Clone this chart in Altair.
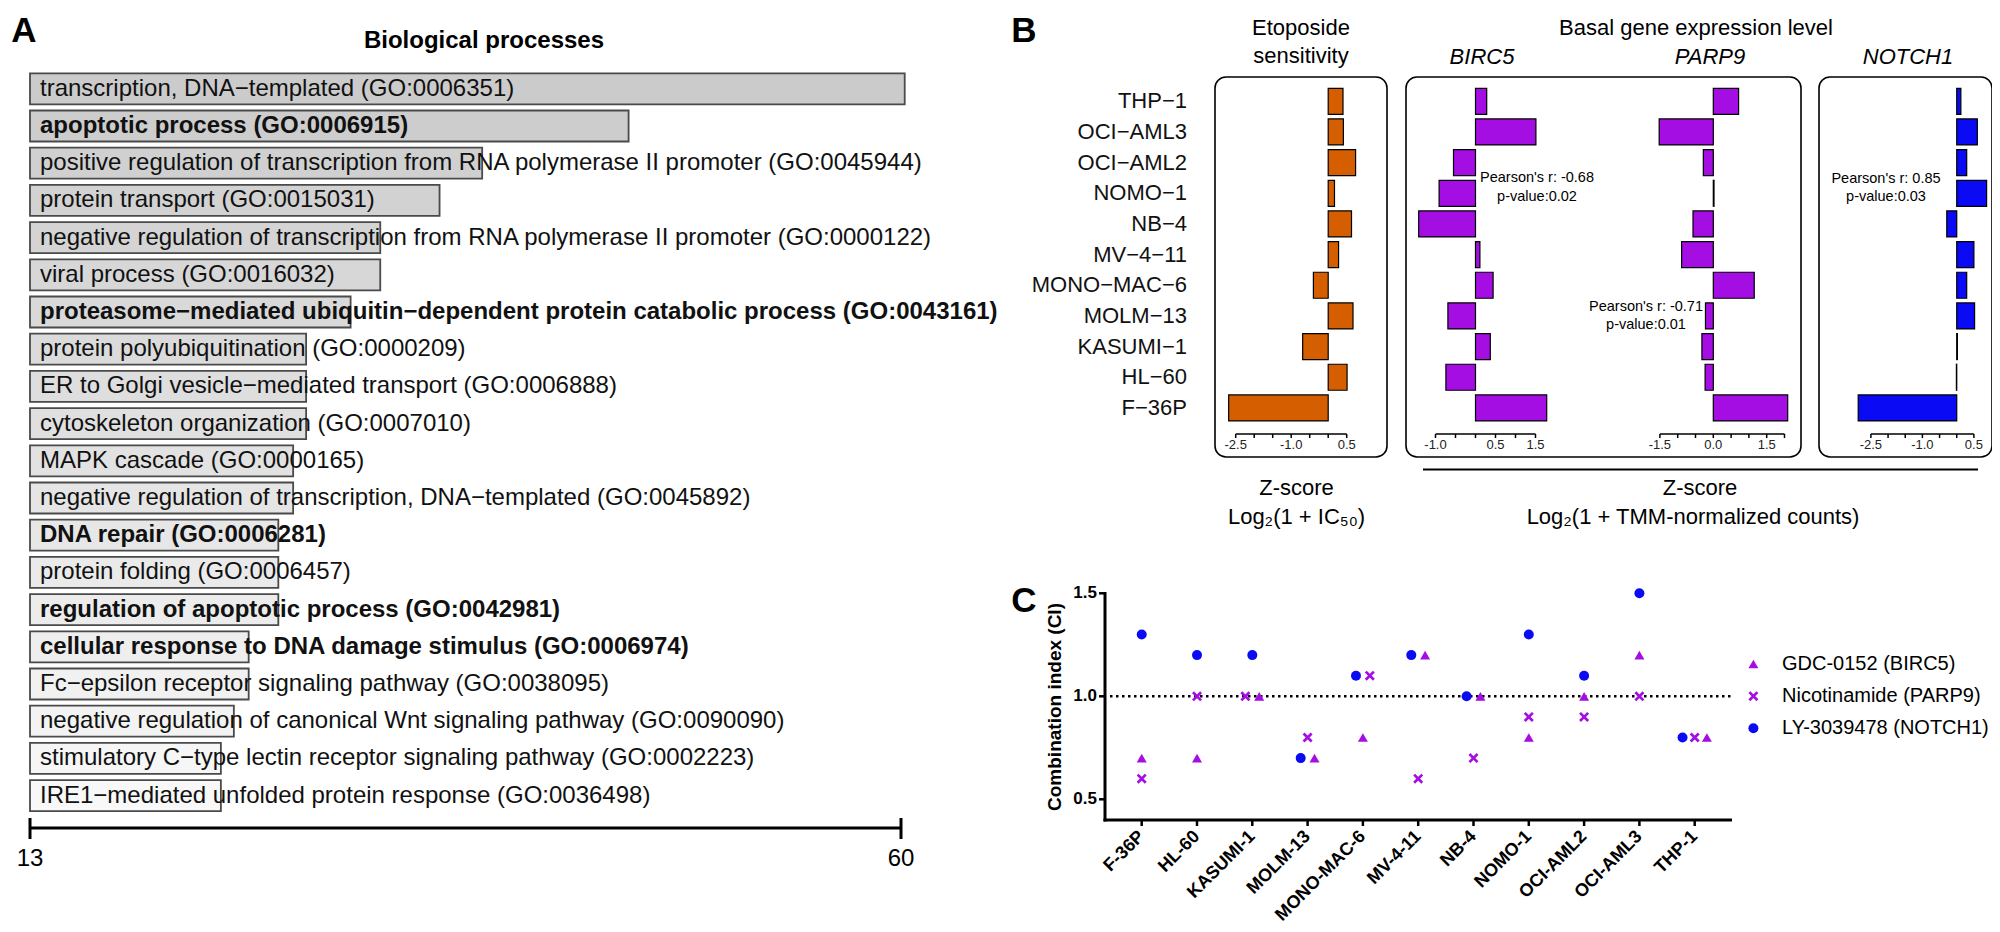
import altair as alt
import pandas as pd

# ---------------- data ----------------
go_terms = [
    "transcription, DNA\u2212templated (GO:0006351)",
    "apoptotic process (GO:0006915)",
    "positive regulation of transcription from RNA polymerase II promoter (GO:0045944)",
    "protein transport (GO:0015031)",
    "negative regulation of transcription from RNA polymerase II promoter (GO:0000122)",
    "viral process (GO:0016032)",
    "proteasome\u2212mediated ubiquitin\u2212dependent protein catabolic process (GO:0043161)",
    "protein polyubiquitination (GO:0000209)",
    "ER to Golgi vesicle\u2212mediated transport (GO:0006888)",
    "cytoskeleton organization (GO:0007010)",
    "MAPK cascade (GO:0000165)",
    "negative regulation of transcription, DNA\u2212templated (GO:0045892)",
    "DNA repair (GO:0006281)",
    "protein folding (GO:0006457)",
    "regulation of apoptotic process (GO:0042981)",
    "cellular response to DNA damage stimulus (GO:0006974)",
    "Fc\u2212epsilon receptor signaling pathway (GO:0038095)",
    "negative regulation of canonical Wnt signaling pathway (GO:0090090)",
    "stimulatory C\u2212type lectin receptor signaling pathway (GO:0002223)",
    "IRE1\u2212mediated unfolded protein response (GO:0036498)",
]
go_values = [60.2, 45.3, 37.4, 35.1, 31.9, 31.9, 30.3, 27.9, 27.9, 27.9,
             27.2, 27.2, 26.4, 26.4, 26.4, 24.8, 24.8, 24.0, 23.3, 23.3]
go_bold = [False, True, False, False, False, False, True, False, False, False,
           False, False, True, False, True, True, False, False, False, False]
a_ticks = [13, 60]

cells_b = ["THP-1", "OCI-AML3", "OCI-AML2", "NOMO-1", "NB-4", "MV-4-11",
           "MONO-MAC-6", "MOLM-13", "KASUMI-1", "HL-60", "F-36P"]
eto_z = [0.40, 0.41, 0.74, 0.17, 0.63, 0.28, -0.40, 0.67, -0.69, 0.51, -2.69]
birc5_z = [0.28, 1.51, -0.55, -0.91, -1.42, 0.11, 0.44, -0.69, 0.37, -0.74, 1.78]
parp9_z = [0.71, -1.52, -0.28, 0.02, -0.57, -0.89, 1.15, -0.22, -0.32, -0.23, 2.09]
notch1_z = [0.12, 0.60, 0.29, 0.87, -0.29, 0.50, 0.29, 0.52, 0.02, -0.01, -2.87]

eto_ticks = [-2.5, -2.0, -1.5, -1.0, -0.5, 0.0, 0.5]
eto_labels = [-2.5, -1.0, 0.5]
birc5_ticks = [-1.0, -0.5, 0.0, 0.5, 1.0, 1.5]
birc5_labels = [-1.0, 0.5, 1.5]
parp9_ticks = [-1.5, -1.0, -0.5, 0.0, 0.5, 1.0, 1.5, 2.0]
parp9_labels = [-1.5, 0.0, 1.5]
notch1_ticks = [-2.5, -2.0, -1.5, -1.0, -0.5, 0.0, 0.5]
notch1_labels = [-2.5, -1.0, 0.5]

cells_c = ["F-36P", "HL-60", "KASUMI-1", "MOLM-13", "MONO-MAC-6", "MV-4-11",
           "NB-4", "NOMO-1", "OCI-AML2", "OCI-AML3", "THP-1"]
drugs = ["GDC-0152 (BIRC5)", "Nicotinamide (PARP9)", "LY-3039478 (NOTCH1)"]
ci_gdc = [0.7, 0.7, 1.0, 0.7, 0.8, 1.2, 1.0, 0.8, 1.0, 1.2, 0.8]
ci_nic = [0.6, 1.0, 1.0, 0.8, 1.1, 0.6, 0.7, 0.9, 0.9, 1.0, 0.8]
ci_ly = [1.3, 1.2, 1.2, 0.7, 1.1, 1.2, 1.0, 1.3, 1.1, 1.5, 0.8]
ci_ticks = [0.5, 1.0, 1.5]
ci_domain = [0.4, 1.5]
ci_ref = [1.0]

# ---------------- styling ----------------
FONT = "Liberation Sans"
ORANGE = "#d55e00"
PURPLE = "#a50ee3"
BLUE = "#0a0af5"
XPATH = "M-1,-0.62L-0.62,-1L1,0.62L0.62,1Z M1,-0.62L-0.62,1L-1,0.62L0.62,-1Z"
M = 8  # page margin


def px(v):
    return v - M


one = pd.DataFrame({"k": [0]})


def label(txt, x, y, size, **kw):
    return alt.Chart(one).mark_text(text=txt, fontSize=size, color="black", **kw).encode(
        x=alt.value(px(x)), y=alt.value(px(y)))


layers = []

# ---------------- Panel A ----------------
dfA = pd.DataFrame({"term": go_terms, "count": go_values, "bold": go_bold,
                    "rank": list(range(len(go_terms))), "base": a_ticks[0]})
a_x = alt.Scale(domain=[a_ticks[0], a_ticks[-1]], range=[px(30), px(901)], nice=False, zero=False)
a_y = alt.Scale(type="band", domain=go_terms, range=[px(73.3), px(811.1)],
                paddingInner=0.167, paddingOuter=0)

layers.append(alt.Chart(dfA).mark_bar(stroke="#4a4a4a", strokeWidth=1.8).encode(
    x=alt.X("count:Q", scale=a_x, axis=None),
    x2="base:Q",
    y=alt.Y("term:N", scale=a_y, axis=None),
    color=alt.Color("rank:Q", scale=alt.Scale(range=["#cbcbcb", "#f8f8f8"]), legend=None),
))
for b in (False, True):
    layers.append(alt.Chart(dfA).transform_filter(alt.datum.bold == b).mark_text(
        align="left", baseline="middle", dx=10, fontSize=24,
        fontWeight="bold" if b else "normal", color="#111111").encode(
        x=alt.X("base:Q", scale=a_x, axis=None),
        y=alt.Y("term:N", scale=a_y, axis=None),
        text="term:N"))

dfAt = pd.DataFrame({"t": a_ticks, "lab": [str(t) for t in a_ticks]})
layers.append(alt.Chart(pd.DataFrame({"a": [a_ticks[0]], "b": [a_ticks[-1]]})).mark_rule(
    strokeWidth=3, color="black").encode(
    x=alt.X("a:Q", scale=a_x, axis=None), x2="b:Q", y=alt.value(px(828))))
layers.append(alt.Chart(dfAt).mark_rule(strokeWidth=3, color="black").encode(
    x=alt.X("t:Q", scale=a_x, axis=None), y=alt.value(px(818)), y2=alt.value(px(839))))
layers.append(alt.Chart(dfAt).mark_text(fontSize=24, baseline="middle", color="black").encode(
    x=alt.X("t:Q", scale=a_x, axis=None), y=alt.value(px(859)), text="lab:N"))

layers.append(label("Biological processes", 484, 41, 24, fontWeight="bold", baseline="middle"))
layers.append(label("A", 24, 42, 35, fontWeight="bold", baseline="alphabetic"))

# ---------------- Panel B ----------------
dfB = pd.DataFrame({"cell": cells_b,
                    "lab": [c.replace("-", "\u2212") for c in cells_b],
                    "eto": eto_z, "birc5": birc5_z, "parp9": parp9_z, "notch1": notch1_z,
                    "zero": 0.0})
b_y = alt.Scale(type="band", domain=cells_b, range=[px(88.3), px(420.9)],
                paddingInner=0.152, paddingOuter=0)

layers.append(alt.Chart(dfB).mark_text(align="right", baseline="middle", fontSize=22,
                                       color="#111111").encode(
    x=alt.value(px(1187)), y=alt.Y("cell:N", scale=b_y, axis=None), text="lab:N"))


def frame(x1, x2, y1, y2):
    return alt.Chart(one).mark_rect(fillOpacity=0, stroke="black", strokeWidth=1.6,
                                    cornerRadius=11).encode(
        x=alt.value(px(x1)), x2=alt.value(px(x2)), y=alt.value(px(y1)), y2=alt.value(px(y2)))


layers += [frame(1215, 1387, 77, 457), frame(1406, 1801, 77, 457), frame(1819, 1992, 77, 457)]


def gene_panel(col, color, ticks, labels, r0, r1):
    xs = alt.Scale(domain=[ticks[0], ticks[-1]], range=[px(r0), px(r1)], nice=False, zero=False)
    out = [alt.Chart(dfB).mark_bar(color=color, stroke="black", strokeWidth=1.2).encode(
        x=alt.X(f"{col}:Q", scale=xs, axis=None), x2="zero:Q",
        y=alt.Y("cell:N", scale=b_y, axis=None))]
    out.append(alt.Chart(pd.DataFrame({"a": [ticks[0]], "b": [ticks[-1]]})).mark_rule(
        strokeWidth=1.5, color="black").encode(
        x=alt.X("a:Q", scale=xs, axis=None), x2="b:Q", y=alt.value(px(434))))
    out.append(alt.Chart(pd.DataFrame({"t": ticks})).mark_rule(strokeWidth=1.5, color="black").encode(
        x=alt.X("t:Q", scale=xs, axis=None), y=alt.value(px(434)), y2=alt.value(px(438))))
    out.append(alt.Chart(pd.DataFrame({"t": labels, "lab": [f"{v:.1f}" for v in labels]})).mark_text(
        fontSize=13, baseline="middle", color="#222222").encode(
        x=alt.X("t:Q", scale=xs, axis=None), y=alt.value(px(445)), text="lab:N"))
    return out


layers += gene_panel("eto", ORANGE, eto_ticks, eto_labels, 1235.7, 1346.7)
layers += gene_panel("birc5", PURPLE, birc5_ticks, birc5_labels, 1435.5, 1535.5)
layers += gene_panel("parp9", PURPLE, parp9_ticks, parp9_labels, 1659.9, 1784.5)
layers += gene_panel("notch1", BLUE, notch1_ticks, notch1_labels, 1870.9, 1973.9)

layers += [
    label("Etoposide", 1301, 28, 22, baseline="middle"),
    label("sensitivity", 1301, 56, 22, baseline="middle"),
    label("Basal gene expression level", 1696, 28, 22, baseline="middle"),
    label("BIRC5", 1482, 57, 22, baseline="middle", fontStyle="italic"),
    label("PARP9", 1710, 57, 22, baseline="middle", fontStyle="italic"),
    label("NOTCH1", 1908, 57, 22, baseline="middle", fontStyle="italic"),
    label("Pearson's r: -0.68", 1537, 178, 14.5, baseline="middle"),
    label("p-value:0.02", 1537, 197, 14.5, baseline="middle"),
    label("Pearson's r: -0.71", 1646, 307, 14.5, baseline="middle"),
    label("p-value:0.01", 1646, 325, 14.5, baseline="middle"),
    label("Pearson's r: 0.85", 1886, 179, 14.5, baseline="middle"),
    label("p-value:0.03", 1886, 197, 14.5, baseline="middle"),
    label("Z-score", 1296.5, 488, 22, baseline="middle"),
    label("Log\u2082(1 + IC\u2085\u2080)", 1296.5, 517, 22, baseline="middle"),
    label("Z-score", 1700, 488, 22, baseline="middle"),
    label("Log\u2082(1 + TMM-normalized counts)", 1693, 517, 22, baseline="middle"),
    label("B", 1024, 42, 35, fontWeight="bold", baseline="alphabetic"),
]
layers.append(alt.Chart(one).mark_rule(strokeWidth=2.2, color="black").encode(
    x=alt.value(px(1423)), x2=alt.value(px(1978)), y=alt.value(px(469.5))))

# ---------------- Panel C ----------------
series = [(drugs[2], ci_ly), (drugs[1], ci_nic), (drugs[0], ci_gdc)]  # dodge order
spread = {1: [0.0], 2: [-0.125, 0.125], 3: [-0.22, 0.0, 0.22]}
rows = []
for i, cell in enumerate(cells_c):
    groups = {}
    for d, vals in series:
        groups.setdefault(vals[i], []).append(d)
    for v, ds in groups.items():
        for d, off in zip(ds, spread[len(ds)]):
            rows.append({"cell": cell, "pos": i + off, "drug": d, "ci": v})
dfC = pd.DataFrame(rows)

c_x = alt.Scale(domain=[0, len(cells_c) - 1], range=[px(1141.7), px(1694.7)], nice=False, zero=False)
c_y = alt.Scale(domain=ci_domain, range=[px(819.9), px(593.3)], nice=False, zero=False)
shape_scale = alt.Scale(domain=drugs, range=["triangle-up", XPATH, "circle"])
color_scale = alt.Scale(domain=drugs, range=[PURPLE, PURPLE, BLUE])

layers.append(alt.Chart(pd.DataFrame({"r": ci_ref})).mark_rule(
    strokeWidth=2.5, strokeDash=[2.5, 3.5], color="black").encode(
    y=alt.Y("r:Q", scale=c_y, axis=None), x=alt.value(px(1110)), x2=alt.value(px(1732))))
layers.append(alt.Chart(one).mark_rule(strokeWidth=3, color="black").encode(
    x=alt.value(px(1103.5)), x2=alt.value(px(1732)), y=alt.value(px(820))))
layers.append(alt.Chart(one).mark_rule(strokeWidth=3, color="black").encode(
    x=alt.value(px(1105)), y=alt.value(px(592)), y2=alt.value(px(821.5))))

dfCx = pd.DataFrame({"i": list(range(len(cells_c))), "lab": cells_c})
layers.append(alt.Chart(dfCx).mark_rule(strokeWidth=2.5, color="black").encode(
    x=alt.X("i:Q", scale=c_x, axis=None), y=alt.value(px(820)), y2=alt.value(px(826))))
layers.append(alt.Chart(dfCx).mark_text(angle=315, align="right", baseline="middle",
                                        fontSize=18, fontWeight="bold", color="black").encode(
    x=alt.X("i:Q", scale=c_x, axis=None), y=alt.value(px(834)), text="lab:N"))

dfCy = pd.DataFrame({"t": ci_ticks, "lab": [f"{v:.1f}" for v in ci_ticks]})
layers.append(alt.Chart(dfCy).mark_rule(strokeWidth=2.5, color="black").encode(
    y=alt.Y("t:Q", scale=c_y, axis=None), x=alt.value(px(1099)), x2=alt.value(px(1105))))
layers.append(alt.Chart(dfCy).mark_text(align="right", baseline="middle", fontSize=17,
                                        fontWeight="bold", color="black").encode(
    y=alt.Y("t:Q", scale=c_y, axis=None), x=alt.value(px(1097)), text="lab:N"))
layers.append(label("Combination index (CI)", 1055, 707, 19, fontWeight="bold",
                    baseline="middle", angle=270))
layers.append(label("C", 1024, 612, 35, fontWeight="bold", baseline="alphabetic"))

layers.append(alt.Chart(dfC).mark_point(filled=True, size=100, opacity=1).encode(
    x=alt.X("pos:Q", scale=c_x, axis=None),
    y=alt.Y("ci:Q", scale=c_y, axis=None),
    shape=alt.Shape("drug:N", scale=shape_scale, legend=None),
    color=alt.Color("drug:N", scale=color_scale, legend=None)))

dfL = pd.DataFrame({"drug": drugs})
leg_y = alt.Scale(type="point", domain=drugs, range=[px(664), px(728.3)], padding=0)
layers.append(alt.Chart(dfL).mark_point(filled=True, size=100, opacity=1).encode(
    x=alt.value(px(1753.4)),
    y=alt.Y("drug:N", scale=leg_y, axis=None),
    shape=alt.Shape("drug:N", scale=shape_scale, legend=None),
    color=alt.Color("drug:N", scale=color_scale, legend=None)))
layers.append(alt.Chart(dfL).mark_text(align="left", baseline="middle", fontSize=20,
                                       color="black").encode(
    x=alt.value(px(1782)), y=alt.Y("drug:N", scale=leg_y, axis=None), text="drug:N"))

chart = alt.layer(*layers).resolve_scale(
    x="independent", y="independent", color="independent", shape="independent"
).properties(
    width=1984, height=916, padding=0, autosize=alt.AutoSizeParams(type="none"),
    background="white"
).configure_view(stroke=None).configure_text(font=FONT)

chart.save("out.html", embed_options={"renderer": "svg", "actions": False})
